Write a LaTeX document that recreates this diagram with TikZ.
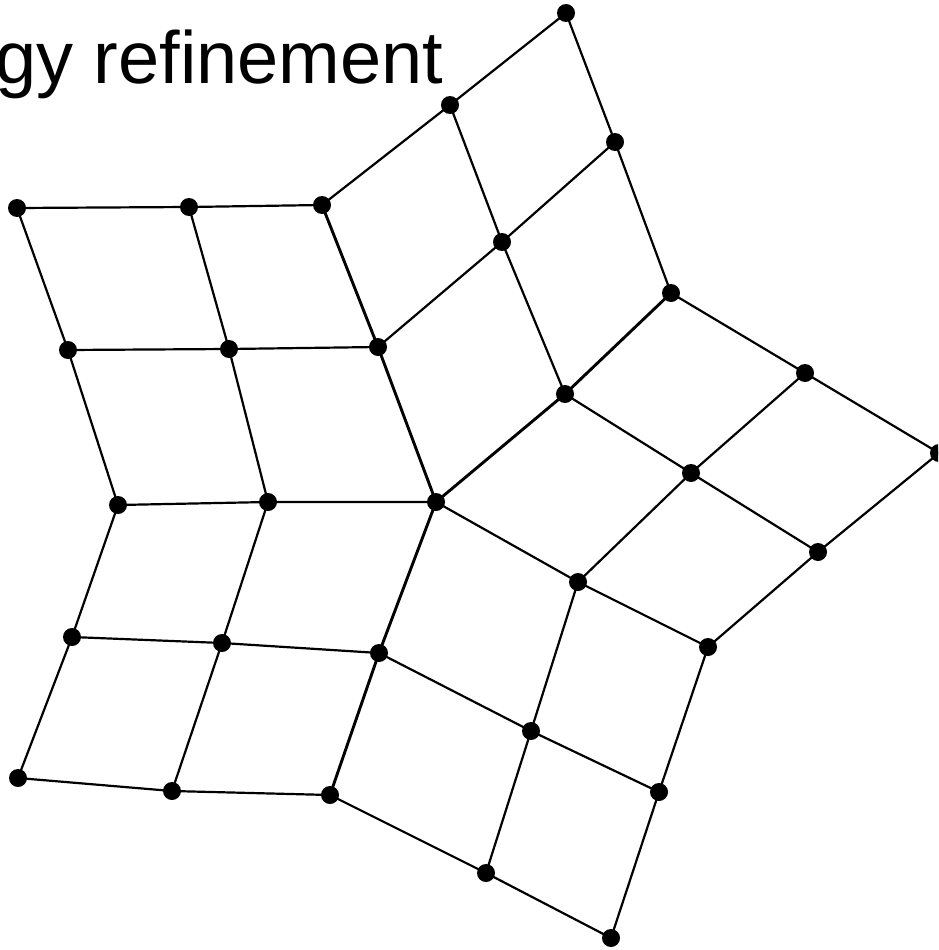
\documentclass[tikz,border=0pt]{standalone}
\usepackage{fontspec}
\setmainfont{Liberation Sans}
\begin{document}
\begin{tikzpicture}[x=1pt,y=-1pt,
  edge/.style={line width=2.2pt,black},
  seam/.style={line width=2.9pt,black},
  title/.style={anchor=base west,inner sep=0pt,font=\fontsize{74}{74}\selectfont}]
\useasboundingbox (0,0) rectangle (938,950);
\clip (0,0) rectangle (938,950);
% patch 1
\coordinate (a1) at (17,208);  \coordinate (a2) at (189,207); \coordinate (a3) at (322,205);
\coordinate (b1) at (68,350);  \coordinate (b2) at (229,349); \coordinate (b3) at (378,347);
\coordinate (c1) at (118,505); \coordinate (c2) at (268,502); \coordinate (o) at (436,502);
% patch 2
\coordinate (t1) at (450,105); \coordinate (t0) at (566,13);
\coordinate (t3) at (502,242); \coordinate (t2) at (615,142);
\coordinate (t5) at (565,394); \coordinate (t4) at (671,293);
% patch 3
\coordinate (r1) at (578,582); \coordinate (r2) at (691,473); \coordinate (r3) at (805,373);
\coordinate (r4) at (708,647); \coordinate (r5) at (818,552); \coordinate (r6) at (939,453);
% patch 4
\coordinate (s1) at (379,653); \coordinate (s2) at (531,731); \coordinate (s3) at (659,792);
\coordinate (s4) at (330,795); \coordinate (s5) at (486,873); \coordinate (s6) at (611,938);
% patch 5
\coordinate (u1) at (222,643); \coordinate (u2) at (172,791);
\coordinate (u3) at (72,637);  \coordinate (u4) at (18,778);

\node[title] (ttl) at (-5,83) {gy refinement};

% patch 1
\draw[edge] (a1) -- (a2) -- (a3);
\draw[edge] (b1) -- (b2) -- (b3);
\draw[edge] (c1) -- (c2) -- (o);
\draw[edge] (a1) -- (b1) -- (c1);
\draw[edge] (a2) -- (b2) -- (c2);
\draw[seam] (a3) -- (b3) -- (o);
% patch 2
\draw[edge] (a3) -- (t1) -- (t0);
\draw[edge] (b3) -- (t3) -- (t2);
\draw[seam] (o) -- (t5) -- (t4);
\draw[edge] (t1) -- (t3) -- (t5);
\draw[edge] (t0) -- (t2) -- (t4);
% patch 3
\draw[edge] (r1) -- (r2) -- (r3);
\draw[edge] (r4) -- (r5) -- (r6);
\draw[edge] (o) -- (r1) -- (r4);
\draw[edge] (t5) -- (r2) -- (r5);
\draw[edge] (t4) -- (r3) -- (r6);
% patch 4
\draw[edge] (s1) -- (s2) -- (s3);
\draw[edge] (s4) -- (s5) -- (s6);
\draw[seam] (o) -- (s1) -- (s4);
\draw[edge] (r1) -- (s2) -- (s5);
\draw[edge] (r4) -- (s3) -- (s6);
% patch 5
\draw[edge] (c2) -- (u1) -- (u2);
\draw[edge] (c1) -- (u3) -- (u4);
\draw[edge] (s1) -- (u1) -- (u3);
\draw[edge] (s4) -- (u2) -- (u4);

\foreach \p in {a1,a2,a3,b1,b2,b3,c1,c2,o,t0,t1,t2,t3,t4,t5,r1,r2,r3,r4,r5,r6,s1,s2,s3,s4,s5,s6,u1,u2,u3,u4}
  \fill (\p) circle (9pt);
\end{tikzpicture}
\end{document}
